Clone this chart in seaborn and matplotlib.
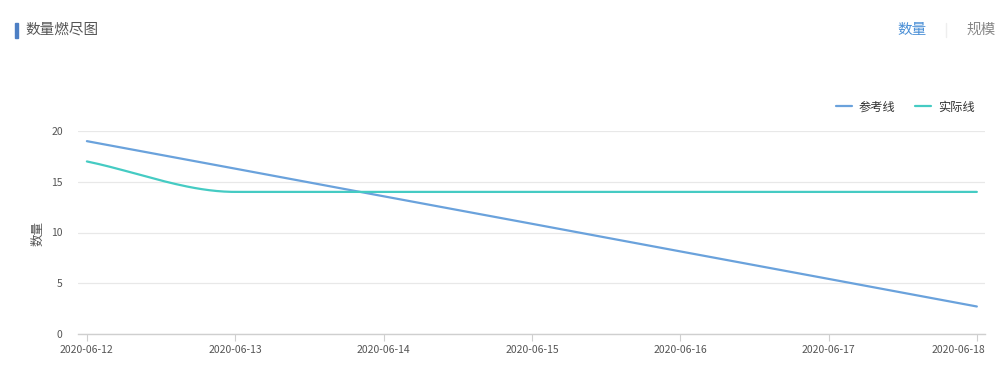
import numpy as np
import pandas as pd
import matplotlib
matplotlib.use("Agg")
import matplotlib.pyplot as plt
import seaborn as sns

dates = ["2020-06-12", "2020-06-13", "2020-06-14", "2020-06-15",
         "2020-06-16", "2020-06-17", "2020-06-18"]
reference = [19, 16.29, 13.57, 10.86, 8.14, 5.43, 2.71]
actual = [17, 14, 14, 14, 14, 14, 14]
yticks = [0, 5, 10, 15, 20]

sns.set_theme(style="white")
plt.rcParams['font.family'] = ['Noto Sans CJK SC', 'DejaVu Sans']

C_REF = "#6aa2dc"
C_ACT = "#45cbc3"

fig = plt.figure(figsize=(10.07, 3.77), dpi=100)
ax = fig.add_axes([78/1007, 1-334/377, (985-78)/1007, (334-131)/377])

x = np.arange(len(dates))
df = pd.DataFrame({"x": x, "参考线": reference, "实际线": actual})

sns.lineplot(data=df, x="x", y="参考线", ax=ax, color=C_REF, linewidth=1.6, label="参考线")


def pchip(xs, ys, n=40):
    xs = np.asarray(xs, float); ys = np.asarray(ys, float)
    h = np.diff(xs); d = np.diff(ys) / h
    m = np.zeros_like(ys)
    for k in range(1, len(xs) - 1):
        if d[k-1] * d[k] <= 0:
            m[k] = 0
        else:
            w1 = 2*h[k] + h[k-1]; w2 = h[k] + 2*h[k-1]
            m[k] = (w1 + w2) / (w1/d[k-1] + w2/d[k])
    m[0] = d[0] * 1.0
    m[-1] = d[-1]
    X, Y = [], []
    for k in range(len(xs) - 1):
        t = np.linspace(0, 1, n, endpoint=(k == len(xs) - 2))
        h00 = 2*t**3 - 3*t**2 + 1; h10 = t**3 - 2*t**2 + t
        h01 = -2*t**3 + 3*t**2; h11 = t**3 - t**2
        X.append(xs[k] + t*h[k])
        Y.append(h00*ys[k] + h10*h[k]*m[k] + h01*ys[k+1] + h11*h[k]*m[k+1])
    return np.concatenate(X), np.concatenate(Y)


sx, sy = pchip(x, actual)
smooth = pd.DataFrame({"x": sx, "y": sy})
sns.lineplot(data=smooth, x="x", y="y", ax=ax, color=C_ACT, linewidth=1.6,
             label="实际线", sort=False, estimator=None)

ax.set_xlim(-0.06, len(dates) - 1 + 0.055)
ax.set_ylim(0, 20)
ax.set_yticks(yticks)
ax.set_yticklabels([str(v) for v in yticks])
ax.set_xticks(x)
ax.set_xticklabels(dates[:-1] + [""])
ax.annotate(dates[-1], xy=(x[-1], 0), xycoords=("data", "axes fraction"),
            xytext=(8, -11.1), textcoords="offset pixels", ha="right", va="top",
            fontsize=7.5, color="#555555", annotation_clip=False)

for s in ["top", "right", "left"]:
    ax.spines[s].set_visible(False)
ax.spines["bottom"].set_color("#cfcfcf")
ax.spines["bottom"].set_linewidth(1)
ax.grid(axis="y", color="#e8e8e8", linewidth=0.9)
ax.set_axisbelow(True)
ax.tick_params(axis="x", length=5, width=0.8, color="#cfcfcf", labelsize=7.5,
               labelcolor="#555555", pad=3, bottom=True)
ax.tick_params(axis="y", length=0, labelsize=7.5, labelcolor="#555555", pad=11)

ax.set_xlabel("")
ax.set_ylabel("数量", fontsize=9, color="#555555")
ax.yaxis.set_label_coords((44 - 78) / (985 - 78), (334 - 233) / (334 - 131))

leg = ax.legend(loc="center right", bbox_to_anchor=(980/1007, 1-107/377),
                bbox_transform=fig.transFigure, ncol=2, frameon=False,
                fontsize=8.8, handlelength=1.3, handletextpad=0.6,
                columnspacing=1.6, borderaxespad=0)
for t in leg.get_texts():
    t.set_color("#333333")

# title and header
fig.patches.append(plt.Rectangle((15/1007, 1-38/377), 2.5/1007, 15/377,
                                 transform=fig.transFigure, color="#4d7fc4"))
fig.text(25/1007, 1-30/377, "数量燃尽图", fontsize=10.5, color="#555555",
         va="center", ha="left")
fig.text(912/1007, 1-30/377, "数量", fontsize=10.5, color="#4a8fd6",
         va="center", ha="center")
fig.text(981/1007, 1-30/377, "规模", fontsize=10.5, color="#888888",
         va="center", ha="center")
fig.add_artist(plt.Line2D([946/1007, 946/1007], [1-37/377, 1-23/377],
                          transform=fig.transFigure, color="#eeeeee", linewidth=1))

fig.savefig("out.png", dpi=100, facecolor="white")
